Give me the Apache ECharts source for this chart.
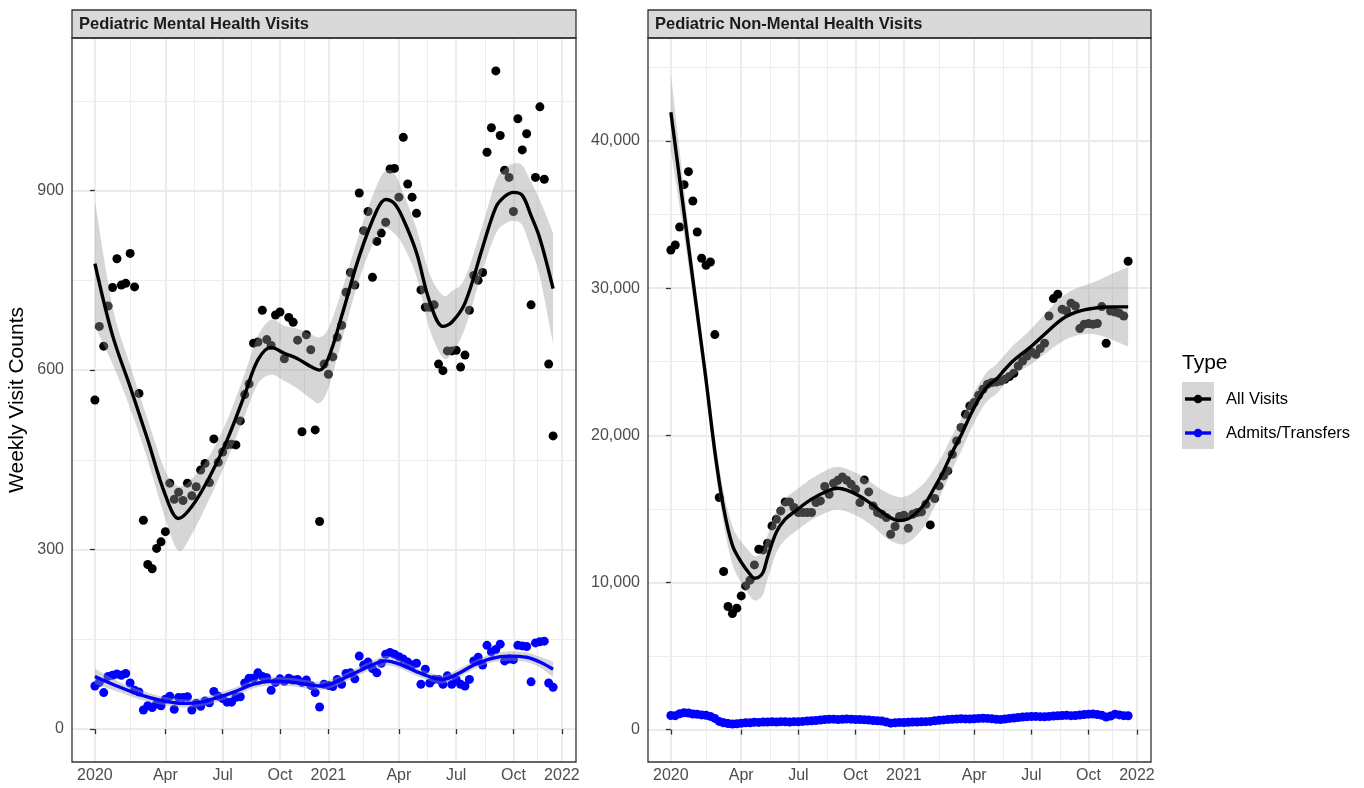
<!DOCTYPE html>
<html><head><meta charset="utf-8">
<script src="https://cdn.jsdelivr.net/npm/echarts@6/dist/echarts.min.js"></script>
<style>html,body{margin:0;padding:0;background:#fff}#c{width:1364px;height:788px}</style>
</head><body><div id="c"></div>
<script>
// ---- x axis: weekly observation index (0 = first week of 2020) ----
const nWeeks = 105;
const tickWeeks  = [0, 16, 29, 42, 53, 69, 82, 95, 106];
const tickLabels = ['2020','Apr','Jul','Oct','2021','Apr','Jul','Oct','2022'];
const minorWeeks = [8, 22.5, 35.5, 47.5, 61, 75.5, 88.5, 100.5];

// ---- y ticks ----
const mhTicks  = [0, 300, 600, 900];
const mhMinor  = [150, 450, 750, 1050];
const nmhTicks = [0, 10000, 20000, 30000, 40000];
const nmhMinor = [5000, 15000, 25000, 35000, 45000];

// ---- Pediatric Mental Health Visits (weekly) ----
const mhAll = [550,673,640,707,738,786,742,745,795,739,561,349,275,268,302,313,330,411,384,396,
382,411,390,405,433,444,412,485,446,463,475,476,475,515,559,577,645,647,700,651,
641,692,697,619,688,680,650,497,659,634,500,347,610,593,622,655,675,730,763,742,
896,833,865,755,815,829,847,936,937,889,989,911,889,862,734,705,705,709,610,599,
632,632,633,605,625,700,758,750,763,964,1005,1100,992,934,922,865,1020,968,995,709,
922,1040,919,610,490];
const mhAdmit = [72,78,61,88,90,92,90,93,77,65,62,32,39,36,42,39,50,55,33,53,
53,54,32,43,38,47,44,63,55,51,45,45,53,54,77,85,85,94,88,86,
65,78,84,80,85,82,83,78,82,73,61,37,75,73,71,83,75,93,94,84,
122,107,112,101,94,110,125,128,125,121,117,112,107,110,75,100,77,83,83,75,
89,75,83,75,72,83,114,120,107,140,129,133,142,114,117,116,140,139,138,79,
144,146,147,77,70];

// ---- Pediatric Non-Mental Health Visits (weekly) ----
const nmhAll = [32594,32933,34155,37035,37918,35921,33816,32029,31554,31778,26846,15773,10746,8369,7893,8253,9089,9768,10155,11195,
12261,12214,12669,13844,14299,14863,15475,15475,15094,14754,14754,14754,14754,15430,15543,16521,15997,16745,16949,17175,
16949,16677,16337,15430,16971,16156,15203,14754,14639,14414,13280,13803,14482,14571,13688,14639,14754,14795,15318,13912,
15706,16561,17241,17580,18715,19618,20528,21432,21995,22227,22723,23130,23470,23588,23626,23694,23810,24000,24217,24714,
25053,25393,25664,25508,25900,26255,28110,29291,29584,28564,28449,28971,28788,27253,27545,27592,27545,27600,28748,26255,
28449,28381,28292,28110,31826];
const nmhAdmit = [960,950,1080,1150,1130,1060,1040,1000,980,900,760,560,470,420,380,400,430,460,470,500,
490,520,510,530,520,540,530,520,540,530,560,580,600,620,650,680,700,710,690,700,
720,710,690,680,670,650,620,600,580,520,440,470,490,480,500,510,520,530,540,560,
600,630,660,690,700,720,740,730,720,740,760,770,760,740,700,680,720,760,790,820,
850,880,890,900,880,870,900,920,940,960,970,950,960,990,1020,1050,1060,1030,980,850,
920,1050,1000,950,940];

// ---- loess fits (week, fit, half-width of 95% band) ----
const mhAllFitX = [0,4,8,12,16,19,22,26,30,34,37,40,43,46,49,51,53,56,60,64,66,68,70,73,76,79,81,84,88,91,93,95,97,99,101,104];
const mhAllFit  = [778,658,572,483,391,352,372,421,483,559,617,638,628,619,606,600,620,690,790,867,885,878,852,796,714,673,680,712,805,872,890,897,892,858,820,736];
const mhAllBand = [105,48,36,34,40,54,46,36,33,35,40,46,46,50,54,55,50,42,38,42,48,50,44,40,46,52,52,42,38,44,46,48,50,56,64,93];

const mhAdmitFitX = [0,5,10,15,20,24,28,32,36,40,44,48,51,54,58,62,66,69,73,77,79,82,86,90,94,98,101,104];
const mhAdmitFit  = [88,72,58,48,43,45,53,63,75,80,79,75,72,77,90,104,114,109,96,85,83,91,107,118,122,120,112,100];
const mhAdmitBand = [13,9,8,7,7,7,7,7,7,7,7,7,7,7,7,7,8,7,7,7,7,7,7,7,8,8,9,13];

const nmhAllFitX = [0,2,4,6,8,10,12,14,16,18,19,20,21,22,24,26,28,32,36,38,40,43,46,49,52,54,56,58,60,62,64,66,68,70,72,74,76,78,80,82,84,86,88,90,92,94,96,98,100,102,104];
const nmhAllFit  = [41950,37400,32860,28310,23770,18900,15060,12530,11380,10560,10290,10360,10700,11720,13420,14300,14780,15660,16270,16400,16270,15860,15250,14570,14200,14330,14780,15450,16470,17560,18850,20000,21300,22450,23330,23810,24490,25100,25580,26050,26600,27140,27680,28090,28360,28530,28630,28700,28730,28730,28730];
const nmhAllBand = [2600,1900,1300,1000,900,1000,1100,1300,1400,1500,1500,1500,1500,1500,1400,1400,1400,1400,1450,1450,1450,1450,1450,1550,1600,1600,1550,1450,1300,1200,1150,1100,1050,1000,1000,1000,1000,1050,1100,1200,1300,1400,1500,1550,1600,1650,1750,1950,2200,2450,2700];

const nmhAdmitFitX = [0,4,8,12,16,20,26,32,38,42,46,50,54,58,62,66,70,74,78,82,86,90,94,98,102,104];
const nmhAdmitFit  = [1000,1080,960,620,470,480,530,600,690,690,640,540,520,560,650,720,750,740,780,860,890,940,990,1010,980,960];
const nmhAdmitBand = [100,70,60,60,60,60,60,60,60,60,60,60,60,60,60,60,60,60,60,60,60,60,60,60,70,100];

// ---------------------------------------------------------------
const FONT = 'Liberation Sans';
const ALL_COL = '#000000', ADM_COL = '#0000FF';
const RIBBON = 'rgba(153,153,153,0.4)';
const weeks = Array.from({length: nWeeks}, (_, i) => i);
const pairs = (xs, ys) => xs.map((x, i) => [x, ys[i]]);

const grids = [
  {left: 72, top: 38, width: 504, height: 724},
  {left: 648, top: 38, width: 503, height: 724}
];
const yRanges = [[-55, 1155], [-2200, 47000]];
const TICK_FS = 16;

function xMain(g) {
  return {
    type: 'value', gridIndex: g, min: -5.2, max: 109.2, position: 'bottom',
    axisLine: {show: false},
    axisTick: {show: true, length: 5, customValues: tickWeeks, lineStyle: {color: '#333333', width: 1.3}},
    axisLabel: {show: true, customValues: tickWeeks, margin: 6, color: '#4D4D4D', fontSize: TICK_FS, fontFamily: FONT,
      formatter: v => { const k = tickWeeks.indexOf(v); return k >= 0 ? tickLabels[k] : ''; }},
    splitLine: {show: true, lineStyle: {color: '#EBEBEB', width: 1.8}}
  };
}
function xMinor(g) {
  return {
    type: 'value', gridIndex: g, min: -5.2, max: 109.2, position: 'top',
    axisLine: {show: false}, axisLabel: {show: false},
    axisTick: {show: false, customValues: minorWeeks},
    splitLine: {show: true, lineStyle: {color: '#EBEBEB', width: 0.9}}
  };
}
function yMain(g, ticks, fmt) {
  return {
    type: 'value', gridIndex: g, min: yRanges[g][0], max: yRanges[g][1], position: 'left',
    axisLine: {show: false},
    axisTick: {show: true, length: 5, customValues: ticks, lineStyle: {color: '#333333', width: 1.3}},
    axisLabel: {show: true, customValues: ticks, margin: 8, color: '#4D4D4D', fontSize: TICK_FS, fontFamily: FONT, formatter: fmt},
    splitLine: {show: true, lineStyle: {color: '#EBEBEB', width: 1.8}}
  };
}
function yMinor(g, ticks) {
  return {
    type: 'value', gridIndex: g, min: yRanges[g][0], max: yRanges[g][1], position: 'right',
    axisLine: {show: false}, axisLabel: {show: false},
    axisTick: {show: false, customValues: ticks},
    splitLine: {show: true, lineStyle: {color: '#EBEBEB', width: 0.9}}
  };
}

const xAxes = [xMain(0), xMain(1), xMinor(0), xMinor(1)];
const yMain0 = yMain(0, mhTicks, v => String(v));
yMain0.name = 'Weekly Visit Counts';
yMain0.nameLocation = 'middle';
yMain0.nameGap = 44;
yMain0.nameTextStyle = {color: '#000000', fontSize: 21, fontFamily: FONT};
const yAxes = [yMain0, yMain(1, nmhTicks, v => v.toLocaleString('en-US')), yMinor(0, mhMinor), yMinor(1, nmhMinor)];

function scatter(g, ys, color) {
  return {type: 'scatter', xAxisIndex: g, yAxisIndex: g, data: pairs(weeks, ys),
    symbol: 'circle', symbolSize: 9, itemStyle: {color: color, opacity: 1}, z: 2, silent: true};
}
// Catmull-Rom curve through pixel points (rendering only)
function curve(pts, steps) {
  const out = [];
  for (let i = 0; i < pts.length - 1; i++) {
    const p0 = pts[i - 1] || pts[i], p1 = pts[i], p2 = pts[i + 1], p3 = pts[i + 2] || pts[i + 1];
    for (let s = 0; s < steps; s++) {
      const t = s / steps, t2 = t * t, t3 = t2 * t;
      const f = k => 0.5 * (2 * p1[k] + (-p0[k] + p2[k]) * t + (2 * p0[k] - 5 * p1[k] + 4 * p2[k] - p3[k]) * t2 + (-p0[k] + 3 * p1[k] - 3 * p2[k] + p3[k]) * t3);
      out.push([f(0), f(1)]);
    }
  }
  out.push(pts[pts.length - 1]);
  return out;
}
function ribbon(g, xs, fit, band) {
  return {
    type: 'custom', coordinateSystem: 'cartesian2d', xAxisIndex: g, yAxisIndex: g,
    data: [[xs[0], fit[0]]], z: 3, silent: true, clip: true,
    renderItem: (params, api) => {
      const up = xs.map((x, i) => api.coord([x, fit[i] + band[i]]));
      const lo = xs.map((x, i) => api.coord([x, fit[i] - band[i]]));
      const pts = curve(up, 12).concat(curve(lo, 12).reverse());
      return {type: 'polygon', shape: {points: pts}, style: {fill: RIBBON, stroke: null}};
    }
  };
}
function fitLine(g, xs, fit, color) {
  return {type: 'line', xAxisIndex: g, yAxisIndex: g, data: pairs(xs, fit), smooth: 0.35,
    symbol: 'none', lineStyle: {color: color, width: 3.4}, z: 4, silent: true};
}

const series = [
  scatter(0, mhAll, ALL_COL), scatter(0, mhAdmit, ADM_COL),
  ribbon(0, mhAllFitX, mhAllFit, mhAllBand), fitLine(0, mhAllFitX, mhAllFit, ALL_COL),
  ribbon(0, mhAdmitFitX, mhAdmitFit, mhAdmitBand), fitLine(0, mhAdmitFitX, mhAdmitFit, ADM_COL),
  scatter(1, nmhAll, ALL_COL), scatter(1, nmhAdmit, ADM_COL),
  ribbon(1, nmhAllFitX, nmhAllFit, nmhAllBand), fitLine(1, nmhAllFitX, nmhAllFit, ALL_COL),
  ribbon(1, nmhAdmitFitX, nmhAdmitFit, nmhAdmitBand), fitLine(1, nmhAdmitFitX, nmhAdmitFit, ADM_COL)
];

const graphics = [];
grids.forEach((g, k) => {
  graphics.push({type: 'rect', shape: {x: g.left, y: 10, width: g.width, height: 28},
    style: {fill: '#D9D9D9', stroke: '#333333', lineWidth: 1.3}, z: 100});
  graphics.push({type: 'text', x: g.left + 7, y: 24.5, style: {
    text: k === 0 ? 'Pediatric Mental Health Visits' : 'Pediatric Non-Mental Health Visits',
    fill: '#1A1A1A', font: 'bold 16.5px "Liberation Sans"', verticalAlign: 'middle', align: 'left'}, z: 101});
  graphics.push({type: 'rect', shape: {x: g.left, y: g.top, width: g.width, height: g.height},
    style: {fill: null, stroke: '#333333', lineWidth: 1.3}, z: 100});
});
// legend
graphics.push({type: 'text', x: 1182, y: 363, style: {text: 'Type', fill: '#000000', font: '21px "Liberation Sans"', verticalAlign: 'middle'}, z: 100});
graphics.push({type: 'rect', shape: {x: 1182, y: 382, width: 32, height: 67}, style: {fill: '#D6D6D6'}, z: 100});
[[ALL_COL, 399, 'All Visits'], [ADM_COL, 433, 'Admits/Transfers']].forEach(([c, y, t]) => {
  graphics.push({type: 'line', shape: {x1: 1185, y1: y, x2: 1211, y2: y}, style: {stroke: c, lineWidth: 3.4}, z: 101});
  graphics.push({type: 'circle', shape: {cx: 1198, cy: y, r: 4.3}, style: {fill: c}, z: 102});
  graphics.push({type: 'text', x: 1226, y: y, style: {text: t, fill: '#000000', font: '16.5px "Liberation Sans"', verticalAlign: 'middle'}, z: 101});
});

const chart = echarts.init(document.getElementById('c'), null, {renderer: 'canvas'});
chart.setOption({
  animation: false,
  backgroundColor: '#ffffff',
  textStyle: {fontFamily: FONT},
  grid: grids.map(g => Object.assign({containLabel: false, show: false}, g)),
  xAxis: xAxes,
  yAxis: yAxes,
  series: series,
  graphic: graphics
});
</script></body></html>
